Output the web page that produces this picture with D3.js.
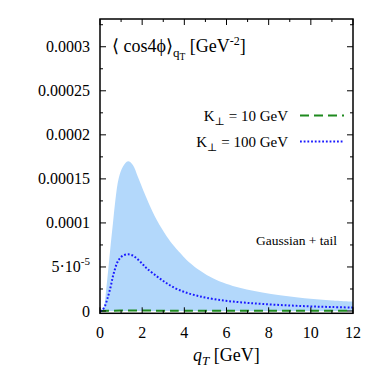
<!DOCTYPE html>
<html><head><meta charset="utf-8">
<script src="https://cdn.jsdelivr.net/npm/d3@7"></script>
<style>html,body{margin:0;padding:0;background:#fff;}</style>
</head><body>
<svg id="c" width="382" height="382" font-family="'Liberation Serif', 'DejaVu Serif', serif"></svg>
<script>
// Band (Gaussian + tail) upper edge, in units of 1e-5 GeV^-2
const qBand = [0, 0.1, 0.19, 0.3, 0.4, 0.51, 0.62, 0.73, 0.89, 1.09, 1.33, 1.55, 1.8, 2.05, 2.3, 2.7, 3.16, 3.5, 3.95, 4.27, 4.7, 5.06, 5.38, 5.69, 6.3, 6.96, 7.7, 8.54, 9.3, 10.12, 11, 12];
const bandUpper = [0, 0.1, 0.5, 2.6, 4.9, 7.6, 10.1, 12.6, 15.1, 16.4, 17.0, 16.6, 15.2, 13.7, 12.3, 10.3, 8.5, 7.4, 6.2, 5.45, 4.65, 4.1, 3.7, 3.35, 2.85, 2.45, 2.1, 1.8, 1.56, 1.35, 1.19, 1.06];
const bandLower = [0, 0, 0, 0, 0, 0, 0, 0, 0, 0, 0, 0, 0, 0, 0, 0, 0, 0, 0, 0, 0, 0, 0, 0, 0, 0, 0, 0, 0, 0, 0, 0];
// K_perp = 100 GeV (dotted)
const qK100 = [0, 0.1, 0.22, 0.35, 0.49, 0.6, 0.69, 0.8, 0.93, 1.1, 1.33, 1.55, 1.8, 2.05, 2.24, 2.69, 3.1, 3.48, 3.9, 4.27, 4.7, 5.06, 5.69, 6.3, 6.96, 7.7, 8.54, 9.3, 10.12, 11, 12];
const k100 = [0, 0.1, 0.5, 1.4, 2.6, 3.8, 4.6, 5.4, 5.95, 6.3, 6.44, 6.3, 5.85, 5.25, 4.8, 3.95, 3.25, 2.7, 2.25, 1.95, 1.68, 1.5, 1.24, 1.07, 0.93, 0.8, 0.68, 0.59, 0.51, 0.45, 0.39];
// K_perp = 10 GeV (dashed)
const qK10 = [0, 1, 2, 3, 4, 6, 8, 10, 12];
const k10 = [0, 0.05, 0.05, 0.04, 0.04, 0.03, 0.03, 0.02, 0.02];
// ticks
const xTicks = [0, 2, 4, 6, 8, 10, 12];
const xMinor = [1, 3, 5, 7, 9, 11];
const yTicks = [0, 5e-5, 1e-4, 1.5e-4, 2e-4, 2.5e-4, 3e-4];
const yTickLabels = ["0", "5·10|-5", "0.0001", "0.00015", "0.0002", "0.00025", "0.0003"];
const yMinor = [2.5e-5, 7.5e-5, 1.25e-4, 1.75e-4, 2.25e-4, 2.75e-4, 3.25e-4];
const legendLabels = ["10 GeV", "100 GeV"];
const SCALE = 1e-5;

const svg = d3.select("#c");
const L = 100, R = 353, T = 19, B = 313.3;
const x = d3.scaleLinear().domain([0, 12]).range([L, R]);
const y = d3.scaleLinear().domain([-2.6e-6, 3.315e-4]).range([B, T]);
const curve = d3.curveCatmullRom.alpha(0.5);

const bandData = qBand.map((q, i) => ({q, lo: bandLower[i] * SCALE, hi: bandUpper[i] * SCALE}));
svg.append("path").datum(bandData)
  .attr("fill", "#b3d8fb")
  .attr("d", d3.area().x(d => x(d.q)).y0(d => y(d.lo)).y1(d => y(d.hi)).curve(curve));

const line = d3.line().x(d => x(d[0])).y(d => y(d[1])).curve(curve);
svg.append("path").datum(qK10.map((q, i) => [q, k10[i] * SCALE]))
  .attr("fill", "none").attr("stroke", "#1e8a1e").attr("stroke-width", 2)
  .attr("stroke-dasharray", "9,5").attr("d", line);
svg.append("path").datum(qK100.map((q, i) => [q, k100[i] * SCALE]))
  .attr("fill", "none").attr("stroke", "#1a1aff").attr("stroke-width", 2)
  .attr("stroke-dasharray", "1.8,1.9").attr("d", line);

// frame
svg.append("rect").attr("x", L).attr("y", T).attr("width", R - L).attr("height", B - T)
  .attr("fill", "none").attr("stroke", "#000").attr("stroke-width", 1.5);

const g = svg.append("g").attr("stroke", "#000").attr("stroke-width", 1);
xTicks.forEach(v => { g.append("line").attr("x1", x(v)).attr("x2", x(v)).attr("y1", B).attr("y2", B - 6);
  g.append("line").attr("x1", x(v)).attr("x2", x(v)).attr("y1", T).attr("y2", T + 6); });
xMinor.forEach(v => { g.append("line").attr("x1", x(v)).attr("x2", x(v)).attr("y1", B).attr("y2", B - 3);
  g.append("line").attr("x1", x(v)).attr("x2", x(v)).attr("y1", T).attr("y2", T + 3); });
yTicks.forEach(v => { g.append("line").attr("y1", y(v)).attr("y2", y(v)).attr("x1", L).attr("x2", L + 6);
  g.append("line").attr("y1", y(v)).attr("y2", y(v)).attr("x1", R).attr("x2", R - 6); });
yMinor.forEach(v => { g.append("line").attr("y1", y(v)).attr("y2", y(v)).attr("x1", L).attr("x2", L + 3);
  g.append("line").attr("y1", y(v)).attr("y2", y(v)).attr("x1", R).attr("x2", R - 3); });

xTicks.forEach(v => svg.append("text").attr("x", x(v)).attr("y", 337.5).attr("text-anchor", "middle")
  .attr("font-size", 16).text(v));
yTicks.forEach((v, i) => {
  const t = svg.append("text").attr("x", 90).attr("y", y(v) + 5.5).attr("text-anchor", "end").attr("font-size", 16);
  const lab = yTickLabels[i];
  if (lab.includes("|")) {
    const [a, b] = lab.split("|");
    t.append("tspan").text(a);
    t.append("tspan").attr("font-size", 11).attr("dy", -7).text(b);
  } else t.text(lab);
});

// title
const tt = svg.append("text").attr("x", 112).attr("y", 52).attr("font-size", 18);
tt.append("tspan").text("⟨ cos4ϕ⟩");
tt.append("tspan").attr("font-size", 13).attr("dy", 5).text("q");
tt.append("tspan").attr("font-size", 9.5).attr("dy", 3).text("T");
tt.append("tspan").attr("dy", -8).text(" [GeV");
tt.append("tspan").attr("font-size", 12).attr("dy", -7).text("-2");
tt.append("tspan").attr("dy", 7).text("]");

// legend
const legY = [115.5, 141.5];
const legStyle = [{c: "#1e8a1e", d: "9,5"}, {c: "#1a1aff", d: "1.8,1.9"}];
legendLabels.forEach((lab, i) => {
  const t = svg.append("text").attr("x", 288).attr("y", legY[i] + 5).attr("text-anchor", "end").attr("font-size", 15);
  t.append("tspan").text("K");
  t.append("tspan").attr("font-size", 11).attr("dy", 4).text("⊥");
  t.append("tspan").attr("dy", -4).text(" = " + lab);
  svg.append("line").attr("x1", 300).attr("x2", 344).attr("y1", legY[i]).attr("y2", legY[i])
    .attr("stroke", legStyle[i].c).attr("stroke-width", 2).attr("stroke-dasharray", legStyle[i].d);
});

svg.append("text").attr("x", 337).attr("y", 244.5).attr("text-anchor", "end").attr("font-size", 13.5).text("Gaussian + tail");

// x-axis label
const xl = svg.append("text").attr("x", 193).attr("y", 361).attr("font-size", 18);
xl.append("tspan").attr("font-style", "italic").text("q");
xl.append("tspan").attr("font-style", "italic").attr("font-size", 13).attr("dy", 4).text("T");
xl.append("tspan").attr("dy", -4).text(" [GeV]");
</script>
</body></html>
